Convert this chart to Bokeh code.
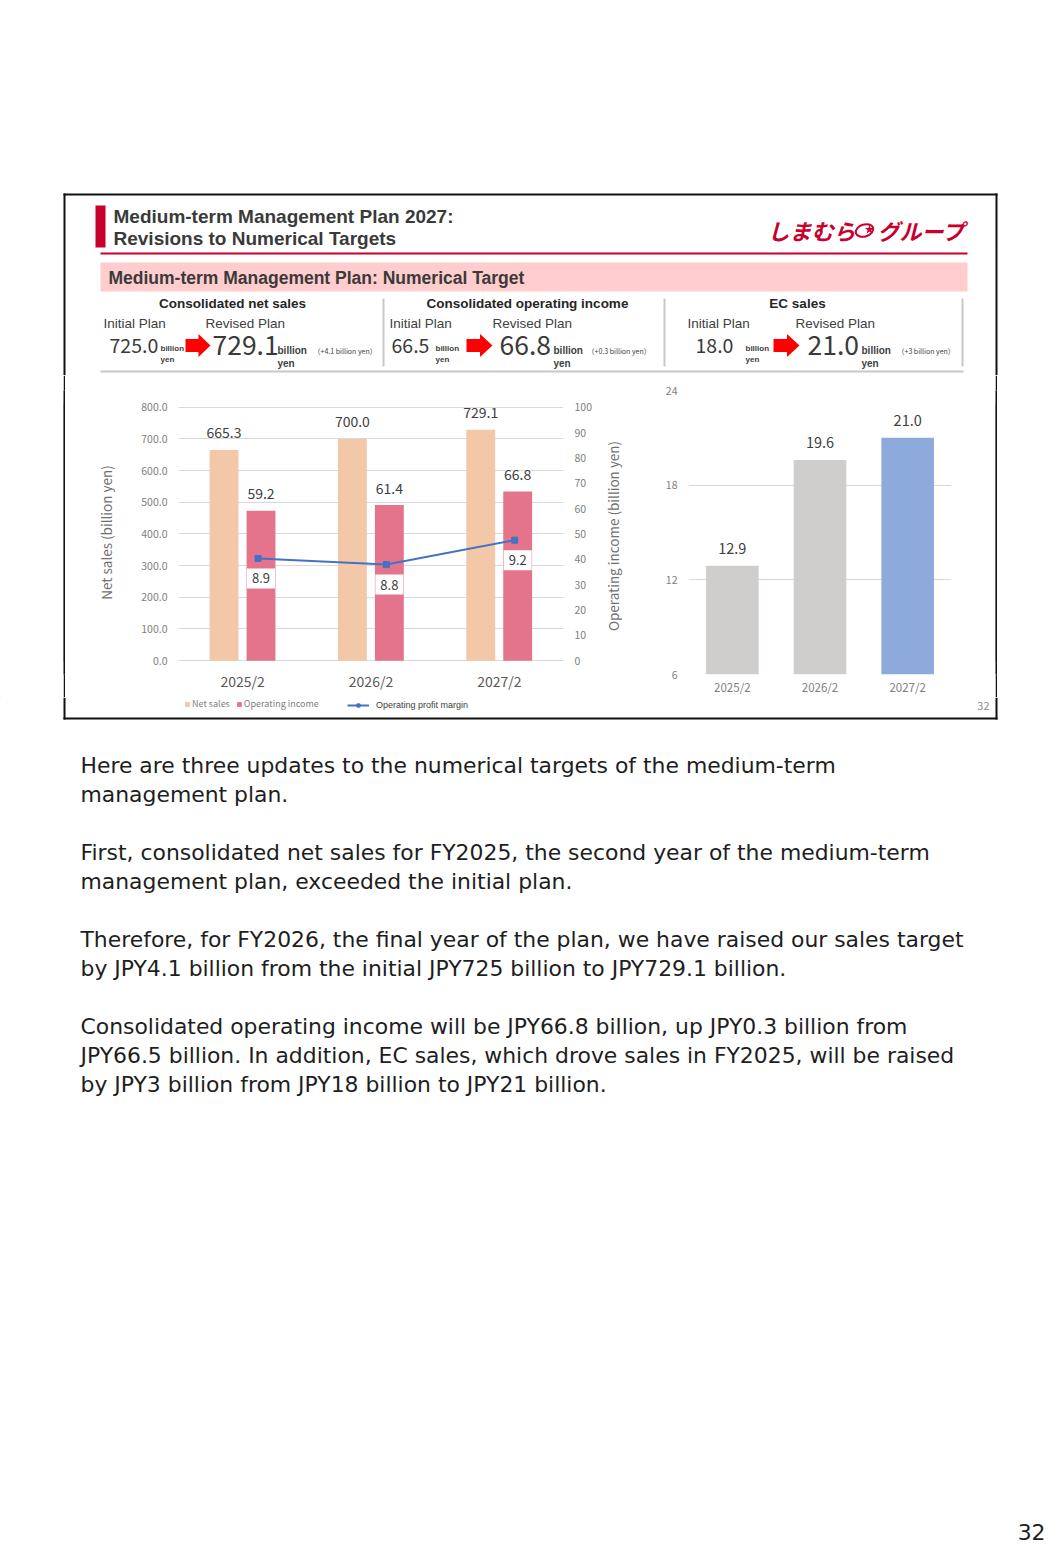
import math
from bokeh.plotting import figure
from bokeh.layouts import column, row
from bokeh.models import (Range1d, FactorRange, LinearAxis, FixedTicker, NumeralTickFormatter,
                          ColumnDataSource, LabelSet, Legend, LegendItem, Spacer, Text)
from bokeh.transform import dodge
from bokeh.core.properties import value
from bokeh.embed import file_html
from bokeh.resources import INLINE

# ---------------- data ----------------
years = ["2025/2", "2026/2", "2027/2"]
net_sales = [665.3, 700.0, 729.1]          # billion yen
op_income = [59.2, 61.4, 66.8]             # billion yen
op_margin = [8.9, 8.8, 9.2]                # %
ec_sales = [12.9, 19.6, 21.0]              # billion yen

plan_titles = ["Consolidated net sales", "Consolidated operating income", "EC sales"]
initial_plan = [725.0, 66.5, 18.0]
revised_plan = [729.1, 66.8, 21.0]
plan_change = ["+4.1", "+0.3", "+3"]

ns_ticks = [0, 100, 200, 300, 400, 500, 600, 700, 800]
oi_ticks = [0, 10, 20, 30, 40, 50, 60, 70, 80, 90, 100]
ec_ticks = [6, 12, 18, 24]

title_lines = ["Medium-term Management Plan 2027:", "Revisions to Numerical Targets"]
band_title = "Medium-term Management Plan: Numerical Target"

body_lines = [
    "Here are three updates to the numerical targets of the medium-term",
    "management plan.",
    "",
    "First, consolidated net sales for FY2025, the second year of the medium-term",
    "management plan, exceeded the initial plan.",
    "",
    "Therefore, for FY2026, the final year of the plan, we have raised our sales target",
    "by JPY4.1 billion from the initial JPY725 billion to JPY729.1 billion.",
    "",
    "Consolidated operating income will be JPY66.8 billion, up JPY0.3 billion from",
    "JPY66.5 billion. In addition, EC sales, which drove sales in FY2025, will be raised",
    "by JPY3 billion from JPY18 billion to JPY21 billion.",
]

# ---------------- styles ----------------
JP = "Noto Sans CJK JP"
AR = "Liberation Sans"
BODY = "DejaVu Sans"
CRIMSON = "#c8002d"
BAND = "#ffcdcd"
BORDER = "#111111"
NS_COLOR = "#f2c8a8"
OI_COLOR = "#e3748b"
LINE_COLOR = "#4472c4"
EC_COLORS = ["#d0cecd", "#d0cecd", "#8eaadc"]
GRID = "#d9d9d9"
DARK = "#404040"
W = 1052


def canvas(w, h, x0, y0):
    p = figure(width=w, height=h, x_range=Range1d(x0, x0 + w), y_range=Range1d(y0 + h, y0),
               output_backend="svg", toolbar_location=None, min_border=0,
               x_axis_type=None, y_axis_type=None, outline_line_color=None)
    return p


def txt(p, x, y, s, size, font=AR, style="normal", color=DARK, align="left", baseline="middle", angle=0):
    p.text(x=[x], y=[y], text=[s], text_font=value(font), text_font_style=style, angle=angle,
           text_font_size=f"{size}px", text_color=color, text_align=align, text_baseline=baseline)


def arrow(p, x0, x1, yc):
    xm = x0 + 0.52 * (x1 - x0)
    p.patch(x=[x0, xm, xm, x1, xm, xm, x0],
            y=[yc - 6.5, yc - 6.5, yc - 11.5, yc, yc + 11.5, yc + 6.5, yc + 6.5],
            fill_color="#ff0000", line_color=None)


# ---------------- top (slide header) ----------------
top = canvas(W, 375, 0, 0)
top.quad(left=[63], right=[997], top=[193], bottom=[195], fill_color=BORDER, line_color=None)
top.quad(left=[63, 995], right=[65, 997], top=[193, 193], bottom=[375, 375], fill_color=BORDER, line_color=None)
top.quad(left=[95], right=[105], top=[205], bottom=[247], fill_color=CRIMSON, line_color=None)
txt(top, 113, 216, title_lines[0], 19, style="bold", color="#3a3a3a")
txt(top, 113, 238, title_lines[1], 19, style="bold", color="#3a3a3a")
# logo
txt(top, 767, 229, "しまむら", 22, font=JP, style="bold italic", color=CRIMSON)
top.ellipse(x=[864], y=[230], width=[18], height=[12], angle=0.3, fill_color=None,
            line_color=CRIMSON, line_width=2)
top.scatter(x=[869], y=[229], marker="star", size=10, fill_color=CRIMSON, line_color=None)
txt(top, 877, 229, "グループ", 22, font=JP, style="bold italic", color=CRIMSON)
top.quad(left=[100], right=[967], top=[252], bottom=[254], fill_color=CRIMSON, line_color=None)
top.quad(left=[100], right=[967], top=[262], bottom=[291], fill_color=BAND, line_color=None)
txt(top, 108, 277, band_title, 17.5, style="bold", color="#3a3a3a")

title_cx = [232, 527, 797]
init_lbl_x = [103, 389, 687]
rev_lbl_x = [205, 492, 795]
init_val_x = [109, 391, 695]
init_bil_x = [160, 435, 745]
arrow_x = [(185, 210), (466, 492), (773, 799)]
rev_val_x = [212, 499, 807]
rev_bil_x = [277, 553, 861]
chg_x = [313, 587, 897]
for i in range(3):
    txt(top, title_cx[i], 303, plan_titles[i], 13.5, style="bold", color="#262626", align="center")
    txt(top, init_lbl_x[i], 323, "Initial Plan", 13.5, color=DARK)
    txt(top, rev_lbl_x[i], 323, "Revised Plan", 13.5, color=DARK)
    txt(top, init_val_x[i], 345, f"{initial_plan[i]:.1f}", 19.5, font=JP, color="#3a3a3a")
    txt(top, init_bil_x[i], 348, "billion", 8, style="bold", color=DARK)
    txt(top, init_bil_x[i], 359, "yen", 8, style="bold", color=DARK)
    arrow(top, arrow_x[i][0], arrow_x[i][1], 345)
    txt(top, rev_val_x[i], 344, f"{revised_plan[i]:.1f}", 26.5, font=JP, color="#3a3a3a")
    txt(top, rev_bil_x[i], 350, "billion", 10, style="bold", color=DARK)
    txt(top, rev_bil_x[i], 363, "yen", 10, style="bold", color=DARK)
    txt(top, chg_x[i], 350, f"（{plan_change[i]} billion yen）", 7, font=JP, color=DARK)
top.segment(x0=[383, 664, 962], y0=[298] * 3, x1=[383, 664, 962], y1=[366] * 3,
            line_color="#c8c8c8", line_width=2)
top.segment(x0=[100], y0=[371], x1=[963], y1=[371], line_color="#c8c8c8", line_width=2)

# ---------------- middle row: both charts share one frame band (y 390..677) ----------------
MID_Y0 = 375
MID_H = 322
FR_TOP = 15
FR_BOT = 20

src = ColumnDataSource(dict(
    year=years, ns=net_sales, oi=op_income, om=op_margin,
    ns_lbl=[f"{v:.1f}" for v in net_sales],
    oi_lbl=[f"{v:.1f}" for v in op_income],
    om_lbl=[f"{v:.1f}" for v in op_margin],
))

lf = figure(width=535, height=MID_H, x_range=FactorRange(*years), y_range=Range1d(-43.75, 853.1),
            output_backend="svg", toolbar_location=None,
            min_border_left=113, min_border_right=37, min_border_top=FR_TOP, min_border_bottom=FR_BOT,
            outline_line_color=None)
lf.extra_y_ranges = {"oi": Range1d(-5.47, 106.64), "om": Range1d(7.0, 11.65)}

lf.vbar(x=dodge("year", -0.145, range=lf.x_range), top="ns", bottom=0, width=0.225, source=src,
        fill_color=NS_COLOR, line_color=None)
lf.vbar(x=dodge("year", 0.143, range=lf.x_range), top="oi", bottom=0, width=0.225, source=src,
        y_range_name="oi", fill_color=OI_COLOR, line_color=None)
lf.line(x=dodge("year", 0.12, range=lf.x_range), y="om", source=src, y_range_name="om",
        line_color=LINE_COLOR, line_width=2)
lf.scatter(x=dodge("year", 0.12, range=lf.x_range), y="om", source=src, y_range_name="om",
           marker="square", size=6, fill_color=LINE_COLOR, line_color=LINE_COLOR)

lf.add_layout(LabelSet(x=dodge("year", -0.145, range=lf.x_range), y="ns", text="ns_lbl", source=src,
                       y_offset=17, text_align="center", text_baseline="middle",
                       text_font=value(JP), text_font_size="14px", text_color=DARK))
lf.add_layout(LabelSet(x=dodge("year", 0.143, range=lf.x_range), y="oi", text="oi_lbl", source=src,
                       y_range_name="oi", y_offset=17, text_align="center", text_baseline="middle",
                       text_font=value(JP), text_font_size="14px", text_color=DARK))
text_props = Text.properties()
if "padding" in text_props and "background_fill_color" in text_props:
    lf.text(x=dodge("year", 0.143, range=lf.x_range), y="om", text="om_lbl", source=src,
            y_range_name="om", y_offset=20, text_align="center", text_baseline="middle",
            text_font=value(JP), text_font_size="13px", text_color=DARK,
            background_fill_color="white", border_line_color=None, padding=5)
else:
    lf.add_layout(LabelSet(x=dodge("year", 0.143, range=lf.x_range), y="om", text="om_lbl", source=src,
                           y_range_name="om", y_offset=-20, text_align="center", text_baseline="middle",
                           text_font=value(JP), text_font_size="13px", text_color=DARK,
                           background_fill_color="white", border_line_color=None))

ya = lf.yaxis[0]
ya.ticker = FixedTicker(ticks=ns_ticks)
ya.formatter = NumeralTickFormatter(format="0.0")
ya.axis_label = "Net sales (billion yen)"
ya.axis_label_standoff = 22

ra = LinearAxis(y_range_name="oi", ticker=FixedTicker(ticks=oi_ticks),
                formatter=NumeralTickFormatter(format="0"))
lf.add_layout(ra, "right")

for ax in (ya, ra):
    ax.axis_line_color = None
    ax.major_tick_line_color = None
    ax.minor_tick_line_color = None
    ax.major_tick_out = 0
    ax.major_tick_in = 0
    ax.major_label_standoff = 11
    ax.major_label_text_font = JP
    ax.major_label_text_font_size = "10.5px"
    ax.major_label_text_color = "#808080"
    ax.axis_label_text_font = JP
    ax.axis_label_text_font_size = "13.5px"
    ax.axis_label_text_font_style = "normal"
    ax.axis_label_text_color = "#707070"

xa = lf.xaxis[0]
xa.axis_line_color = None
xa.major_tick_line_color = None
xa.major_tick_out = 0
xa.major_label_standoff = -4
xa.major_label_text_font = JP
xa.major_label_text_font_size = "14px"
xa.major_label_text_color = "#595959"

lf.xgrid.grid_line_color = None
lf.ygrid.ticker = FixedTicker(ticks=ns_ticks)
lf.ygrid.grid_line_color = GRID

# right-axis title of the left chart (own narrow panel)
rt = figure(width=40, height=MID_H, x_range=Range1d(600, 640),
            y_range=Range1d(MID_Y0 + MID_H - FR_BOT, MID_Y0 + FR_TOP),
            output_backend="svg", toolbar_location=None, min_border=0,
            min_border_top=FR_TOP, min_border_bottom=FR_BOT,
            x_axis_type=None, y_axis_type=None, outline_line_color=None)
txt(rt, 612, 537, "Operating income (billion yen)", 13.5, font=JP, color="#707070",
    align="center", angle=math.pi / 2)

# ---------------- right chart: EC sales ----------------
esrc = ColumnDataSource(dict(year=years, ec=ec_sales, color=EC_COLORS,
                             lbl=[f"{v:.1f}" for v in ec_sales]))
rf = figure(width=355, height=MID_H, x_range=FactorRange(*years), y_range=Range1d(6, 24),
            output_backend="svg", toolbar_location=None,
            min_border_left=48, min_border_right=44, min_border_top=FR_TOP, min_border_bottom=FR_BOT,
            outline_line_color=None)
rf.vbar(x="year", top="ec", bottom=6, width=0.6, source=esrc, fill_color="color", line_color=None)
rf.add_layout(LabelSet(x="year", y="ec", text="lbl", source=esrc, y_offset=17,
                       text_align="center", text_baseline="middle",
                       text_font=value(JP), text_font_size="14.5px", text_color=DARK))
ry = rf.yaxis[0]
ry.ticker = FixedTicker(ticks=ec_ticks)
ry.formatter = NumeralTickFormatter(format="0")
rx = rf.xaxis[0]
for ax in (ry, rx):
    ax.axis_line_color = None
    ax.major_tick_line_color = None
    ax.minor_tick_line_color = None
    ax.major_tick_out = 0
    ax.major_tick_in = 0
    ax.major_label_text_font = JP
    ax.major_label_text_color = "#808080"
ry.major_label_standoff = 11
ry.major_label_text_font_size = "10.5px"
rx.major_label_standoff = 4
rx.major_label_text_font_size = "11.5px"
rf.xgrid.grid_line_color = None
rf.ygrid.ticker = FixedTicker(ticks=ec_ticks)
rf.ygrid.grid_line_color = GRID


def vstrip(h):
    s = figure(width=2, height=h, output_backend="svg", toolbar_location=None, min_border=0,
               x_axis_type=None, y_axis_type=None, outline_line_color=None,
               background_fill_color=BORDER, border_fill_color=BORDER)
    s.quad(left=[0], right=[1], top=[1], bottom=[0], fill_color=BORDER, line_color=None)
    return s


# ---------------- slide bottom strip: legend, page no., border ----------------
STRIP_Y0 = MID_Y0 + MID_H
bs = canvas(W, 720 - STRIP_Y0, 0, STRIP_Y0)
bs.quad(left=[63, 995], right=[65, 997], top=[STRIP_Y0, STRIP_Y0], bottom=[719, 719],
        fill_color=BORDER, line_color=None)
bs.quad(left=[63], right=[997], top=[717], bottom=[719], fill_color=BORDER, line_color=None)
proxy = ColumnDataSource(dict(x=[-60, -50], y=[-60, -50]))
r_ns = bs.vbar(x="x", top="y", width=1, source=proxy, fill_color=NS_COLOR, line_color=None)
r_oi = bs.vbar(x="x", top="y", width=1, source=proxy, fill_color=OI_COLOR, line_color=None)
r_ln = bs.line(x="x", y="y", source=proxy, line_color=LINE_COLOR, line_width=2)
r_mk = bs.scatter(x="x", y="y", source=proxy, marker="square", size=6,
                  fill_color=LINE_COLOR, line_color=LINE_COLOR)
leg_y = 720 - 710
leg1 = Legend(items=[LegendItem(label="Net sales", renderers=[r_ns]),
                     LegendItem(label="Operating income", renderers=[r_oi])],
              location=(184, leg_y), orientation="horizontal", glyph_width=6, glyph_height=6,
              label_text_font=JP, label_text_font_size="9px", label_text_color="#808080",
              label_standoff=2, spacing=6, padding=0, margin=0, label_height=10,
              border_line_color=None, background_fill_alpha=0)
leg2 = Legend(items=[LegendItem(label="Operating profit margin", renderers=[r_ln, r_mk])],
              location=(347, leg_y), orientation="horizontal", glyph_width=22, glyph_height=8,
              label_text_font=AR, label_text_font_size="9px", label_text_color=DARK,
              label_standoff=7, padding=0, margin=0, label_height=10,
              border_line_color=None, background_fill_alpha=0)
bs.add_layout(leg1)
bs.add_layout(leg2)
txt(bs, 989, 705, "32", 11, font=JP, color="#8c8c8c", align="right")

# ---------------- speaker notes text ----------------
tf = canvas(W, 825, 0, 720)
for i, line in enumerate(body_lines):
    if line:
        txt(tf, 80, 765 + 29 * i, line, 21.9, font=BODY, color="#1e1e1e")
txt(tf, 1045, 1531, "32", 21.9, font=BODY, color="#1e1e1e", align="right")

page = column(
    top,
    row(Spacer(width=63, height=MID_H), vstrip(MID_H), lf, rt, rf, vstrip(MID_H),
        Spacer(width=W - 997, height=MID_H)),
    bs,
    tf,
)

open("out.html", "w").write(file_html(page, INLINE))
